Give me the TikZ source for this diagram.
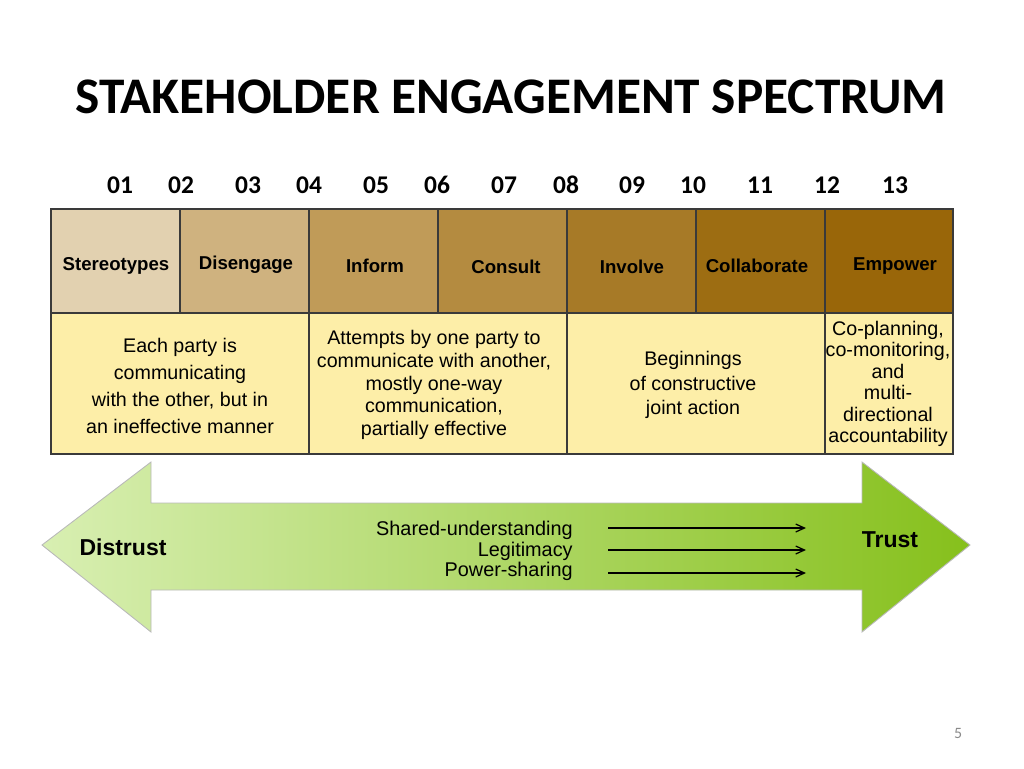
\documentclass[tikz,border=0pt]{standalone}
\usepackage{fontspec}
\setmainfont{Liberation Sans}
\newfontfamily\calibrifont{Carlito}
\usetikzlibrary{positioning,arrows.meta}
\definecolor{stereoCol}{HTML}{E2D1B0}
\definecolor{disengCol}{HTML}{CFB27F}
\definecolor{informCol}{HTML}{C09B58}
\definecolor{consultCol}{HTML}{B48B40}
\definecolor{involveCol}{HTML}{A77A27}
\definecolor{collabCol}{HTML}{9D6D12}
\definecolor{empowerCol}{HTML}{996609}
\definecolor{bodyCol}{HTML}{FDEEA8}
\definecolor{cellLine}{HTML}{3A3A3A}
\definecolor{distrustCol}{HTML}{D8EFB2}
\definecolor{midCol}{HTML}{B9DF78}
\definecolor{trustCol}{HTML}{86C01C}
\definecolor{pageCol}{HTML}{8A8A8A}
\tikzset{
    headCell/.style={fill=#1, draw=cellLine, line width=0.85pt},
    bodyCell/.style={fill=bodyCol, draw=cellLine, line width=0.85pt},
    headText/.style={font=\fontsize{10.6}{12}\selectfont\bfseries},
    stepNum/.style={font=\calibrifont\fontsize{14.5}{16}\selectfont\bfseries},
    bodyText/.style={align=center, inner sep=0pt, font=\fontsize{11.2}{#1}\selectfont}
}
\tikzset{
    flowArrow/.style={-{Straight Barb[length=5pt, width=4.5pt]}, line width=0.7pt},
    endText/.style={font=\fontsize{13.1}{15}\selectfont\bfseries}
}

\begin{document}
\begin{tikzpicture}[x=0.02cm, y=-0.02cm]
	\useasboundingbox (0,0) rectangle (1024,768);
	\node (title) at (511,97) {\calibrifont\fontsize{29.2}{34}\selectfont\bfseries STAKEHOLDER ENGAGEMENT SPECTRUM};
	% step numbers
	\node[stepNum] (n01) at (120,185) {01};
	\node[stepNum] (n02) at (181,185) {02};
	\node[stepNum] (n03) at (248,185) {03};
	\node[stepNum] (n04) at (309,185) {04};
	\node[stepNum] (n05) at (376,185) {05};
	\node[stepNum] (n06) at (437,185) {06};
	\node[stepNum] (n07) at (504,185) {07};
	\node[stepNum] (n08) at (566,185) {08};
	\node[stepNum] (n09) at (632,185) {09};
	\node[stepNum] (n10) at (693,185) {10};
	\node[stepNum] (n11) at (760,185) {11};
	\node[stepNum] (n12) at (827,185) {12};
	\node[stepNum] (n13) at (895,185) {13};
	% header row
	\draw[headCell=stereoCol] (51,209) rectangle (180,313);
	\draw[headCell=disengCol] (180,209) rectangle (309,313);
	\draw[headCell=informCol] (309,209) rectangle (438,313);
	\draw[headCell=consultCol] (438,209) rectangle (567,313);
	\draw[headCell=involveCol] (567,209) rectangle (696,313);
	\draw[headCell=collabCol] (696,209) rectangle (825,313);
	\draw[headCell=empowerCol] (825,209) rectangle (953,313);
	\node[headText] (stereo) at (116,266) {Stereotypes};
	\node[headText] (diseng) at (246,265) {Disengage};
	\node[headText] (inform) at (375,266) {Inform};
	\node[headText] (consult) at (506,267) {Consult};
	\node[headText] (involve) at (632,267) {Involve};
	\node[headText] (collab) at (757,266) {Collaborate};
	\node[headText] (empower) at (895,266) {Empower};
	% body row
	\draw[bodyCell] (51,313) rectangle (309,454);
	\draw[bodyCell] (309,313) rectangle (567,454);
	\draw[bodyCell] (567,313) rectangle (825,454);
	\draw[bodyCell] (825,313) rectangle (953,454);
	\node[bodyText=15.3] (descA) at (180,386) {Each party is\\communicating\\with the other, but in\\an ineffective manner};
	\node[bodyText=13] (descB) at (434,385) {Attempts by one party to\\communicate with another,\\mostly one-way\\communication,\\partially effective};
	\node[bodyText=13.9] (descC) at (693,385) {Beginnings\\of constructive\\joint action};
	\node[bodyText=12.25] (descD) at (888,384) {Co-planning,\\co-monitoring,\\and\\multi-\\directional\\accountability};
	% trust arrow
	\shade[left color=distrustCol, middle color=midCol, right color=trustCol, draw=gray!55, line width=0.5pt]
		(42,545) -- (151,462) -- (151,503) -- (862,503) -- (862,462) -- (970,545)
		-- (862,632) -- (862,590) -- (151,590) -- (151,632) -- cycle;
	\node[endText] (distrust) at (123,547) {Distrust};
	\node[endText] (trust) at (890,540) {Trust};
	\node[anchor=east, align=right, inner sep=0pt, font=\fontsize{11.3}{11.8}\selectfont] (drivers) at (573,551) {Shared-understanding\\Legitimacy\\Power-sharing};
	\coordinate (sharedA) at (608,528);
	\coordinate (sharedB) at (806,528);
	\coordinate (legitA) at (608,550);
	\coordinate (legitB) at (806,550);
	\coordinate (powerA) at (608,573);
	\coordinate (powerB) at (806,573);
	\draw[flowArrow] (sharedA) -- (sharedB);
	\draw[flowArrow] (legitA) -- (legitB);
	\draw[flowArrow] (powerA) -- (powerB);
	\node[text=pageCol] (page) at (958,733) {\calibrifont\fontsize{9}{10}\selectfont 5};
\end{tikzpicture}
\end{document}
